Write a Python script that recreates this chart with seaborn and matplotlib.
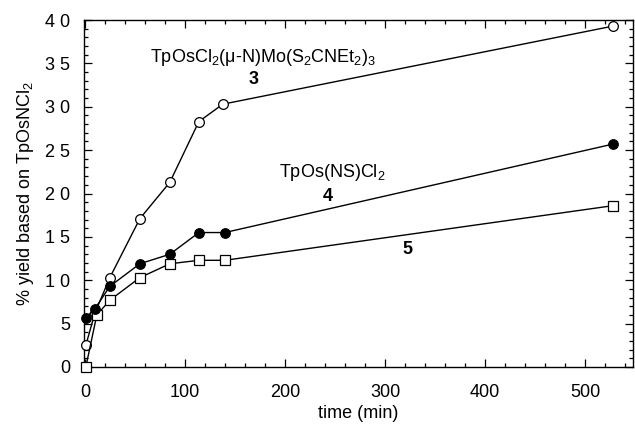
import matplotlib
matplotlib.use("Agg")
import matplotlib.pyplot as plt
import seaborn as sns
import pandas as pd
from matplotlib.ticker import MultipleLocator, FixedLocator, FixedFormatter

sns.set_theme(style="ticks")
plt.rcParams['font.family'] = ['Liberation Sans', 'DejaVu Sans']
plt.rcParams['mathtext.fontset'] = 'custom'
plt.rcParams['mathtext.rm'] = 'Liberation Sans'
plt.rcParams['mathtext.it'] = 'Liberation Sans'
plt.rcParams['text.color'] = 'black'
plt.rcParams['axes.labelcolor'] = 'black'

# data
t3 = [1, 10, 25, 55, 85, 114, 138, 528]
y3 = [2.5, 6.2, 10.3, 17.1, 21.3, 28.3, 30.3, 39.3]
t4 = [1, 10, 25, 55, 85, 114, 140, 528]
y4 = [5.7, 6.7, 9.3, 11.9, 13.0, 15.5, 15.5, 25.7]
t5 = [1, 12, 25, 55, 85, 114, 140, 528]
y5 = [0.0, 6.0, 7.7, 10.3, 11.9, 12.3, 12.3, 18.6]

yticks = [0, 5, 10, 15, 20, 25, 30, 35, 40]
ytick_labels = ["0", "5", "1 0", "1 5", "2 0", "2 5", "3 0", "3 5", "4 0"]
xticks = [0, 100, 200, 300, 400, 500]
xtick_labels = ["0", "100", "200", "300", "400", "500"]

fig = plt.figure(figsize=(6.35, 4.26), dpi=100)
ax = fig.add_axes([0.132, 0.1385, 0.865, 0.8145])

lw = 1.0
ms = 7
sns.lineplot(x=t3, y=y3, ax=ax, color="black", lw=lw, marker="o", markersize=ms,
             markerfacecolor="white", markeredgecolor="black", markeredgewidth=0.9,
             clip_on=False, zorder=3)
sns.lineplot(x=t5, y=y5, ax=ax, color="black", lw=lw, marker="s", markersize=ms - 0.5,
             markerfacecolor="white", markeredgecolor="black", markeredgewidth=0.9,
             clip_on=False, zorder=4)
sns.lineplot(x=t4, y=y4, ax=ax, color="black", lw=lw, marker="o", markersize=ms,
             markerfacecolor="black", markeredgecolor="black",
             clip_on=False, zorder=5)

ax.set_xlim(-1, 548)
ax.set_ylim(0, 40)
ax.xaxis.set_major_locator(FixedLocator(xticks))
ax.xaxis.set_major_formatter(FixedFormatter(xtick_labels))
ax.xaxis.set_minor_locator(MultipleLocator(20))
ax.yaxis.set_major_locator(FixedLocator(yticks))
ax.yaxis.set_major_formatter(FixedFormatter(ytick_labels))
ax.yaxis.set_minor_locator(MultipleLocator(1))
ax.tick_params(which="both", direction="in", top=True, right=True, width=0.9,
               labelsize=13, colors="black")
ax.tick_params(axis="x", which="major", length=6, pad=12)
ax.tick_params(axis="y", which="major", length=6, pad=10)
ax.tick_params(which="minor", length=3)
for s in ax.spines.values():
    s.set_linewidth(1.0)
    s.set_color("black")

ax.set_xlabel("time (min)", fontsize=13, labelpad=3, color="black")
ax.set_ylabel("% yield based on TpOsNCl$_2$", fontsize=13, labelpad=6, color="black")

ax.text(178, 35.7, r"TpOsCl$_2$(μ-N)Mo(S$_2$CNEt$_2$)$_3$", fontsize=13,
        ha="center", va="center", color="black")
ax.text(169, 33.1, "3", fontsize=13, fontweight="bold", ha="center", va="center", color="black")
ax.text(247, 22.4, r"TpOs(NS)Cl$_2$", fontsize=13, ha="center", va="center", color="black")
ax.text(242.5, 19.6, "4", fontsize=13, fontweight="bold", ha="center", va="center", color="black")
ax.text(322, 13.5, "5", fontsize=13, fontweight="bold", ha="center", va="center", color="black")

fig.savefig("out.png", dpi=100)
